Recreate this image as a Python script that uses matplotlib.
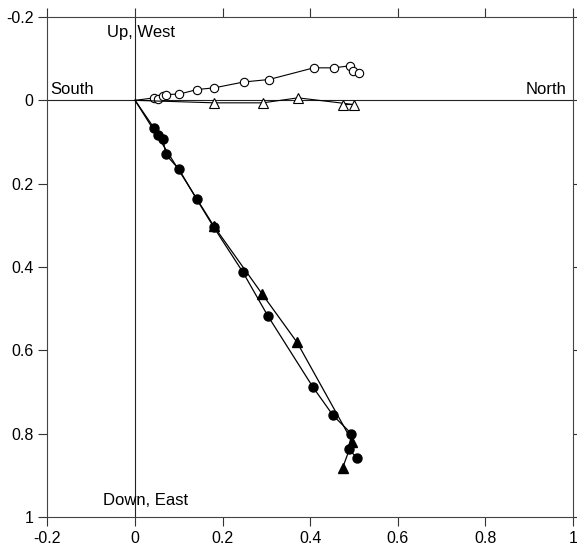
# Zijderveld-style orthogonal projection plot
import numpy as np
import matplotlib.pyplot as plt

plt.rcParams['font.family'] = ['Liberation Sans', 'DejaVu Sans']

# horizontal projection (North vs West), first vertex is the origin
circ_north_h = [0, 0.044, 0.053, 0.063, 0.071, 0.101, 0.142, 0.181, 0.248, 0.306, 0.408, 0.454, 0.491, 0.498, 0.511]
circ_west = [0, -0.006, -0.003, -0.010, -0.014, -0.015, -0.026, -0.030, -0.044, -0.050, -0.078, -0.078, -0.083, -0.070, -0.066]

# vertical projection (North vs Down)
circ_north_v = [0, 0.043, 0.053, 0.064, 0.070, 0.100, 0.141, 0.180, 0.246, 0.303, 0.406, 0.452, 0.494, 0.488, 0.507]
circ_down = [0, 0.066, 0.082, 0.093, 0.130, 0.165, 0.238, 0.305, 0.412, 0.517, 0.688, 0.756, 0.800, 0.838, 0.858]

# second sample (triangles)
tri_north_h = [0, 0.181, 0.292, 0.372, 0.499, 0.475]
tri_west = [0, 0.006, 0.006, -0.006, 0.010, 0.010]
tri_north_v = [0, 0.180, 0.291, 0.370, 0.496, 0.474]
tri_down = [0, 0.302, 0.466, 0.581, 0.819, 0.882]

ticks = [-0.2, 0, 0.2, 0.4, 0.6, 0.8, 1]
tick_labels = ['-0.2', '0', '0.2', '0.4', '0.6', '0.8', '1']

fig = plt.figure(figsize=(5.77, 5.45), dpi=100)
ax = fig.add_axes([0.0823, 0.0514, 0.9107, 0.9174])

# axes through the origin
ax.axhline(0, color='#222222', lw=0.8, zorder=1)
ax.axvline(0, color='#222222', lw=0.8, zorder=1)

mk = slice(1, None)
ax.plot(circ_north_h, circ_west, '-o', color='black', lw=0.8, mfc='white', mec='black',
        mew=0.8, ms=6, markevery=mk, zorder=3)
ax.plot(tri_north_h, tri_west, '-^', color='black', lw=0.8, mfc='white', mec='black',
        mew=0.8, ms=7, markevery=mk, zorder=4)
ax.plot(circ_north_v, circ_down, '-o', color='black', lw=0.9, mfc='black', mec='black',
        ms=6.5, markevery=mk, zorder=3)
ax.plot(tri_north_v, tri_down, '-^', color='black', lw=0.9, mfc='black', mec='black',
        ms=7.5, markevery=mk, zorder=4)

ax.set_xlim(-0.2, 1)
ax.set_ylim(1, -0.2)
ax.set_xticks(ticks)
ax.set_xticklabels(tick_labels)
ax.set_yticks(ticks)
ax.set_yticklabels(tick_labels)
ax.tick_params(direction='out', length=6.5, width=0.8, labelsize=11.5,
               top=True, right=True, color='#333333')

for s in ax.spines.values():
    s.set_linewidth(0.8)
    s.set_color('#444444')

ax.text(-0.064, -0.163, 'Up, West', fontsize=12, va='center', ha='left')
ax.text(-0.194, -0.026, 'South', fontsize=12, va='center', ha='left')
ax.text(0.986, -0.026, 'North', fontsize=12, va='center', ha='right')
ax.text(-0.073, 0.96, 'Down, East', fontsize=12, va='center', ha='left')

fig.savefig('out.png', dpi=100)
